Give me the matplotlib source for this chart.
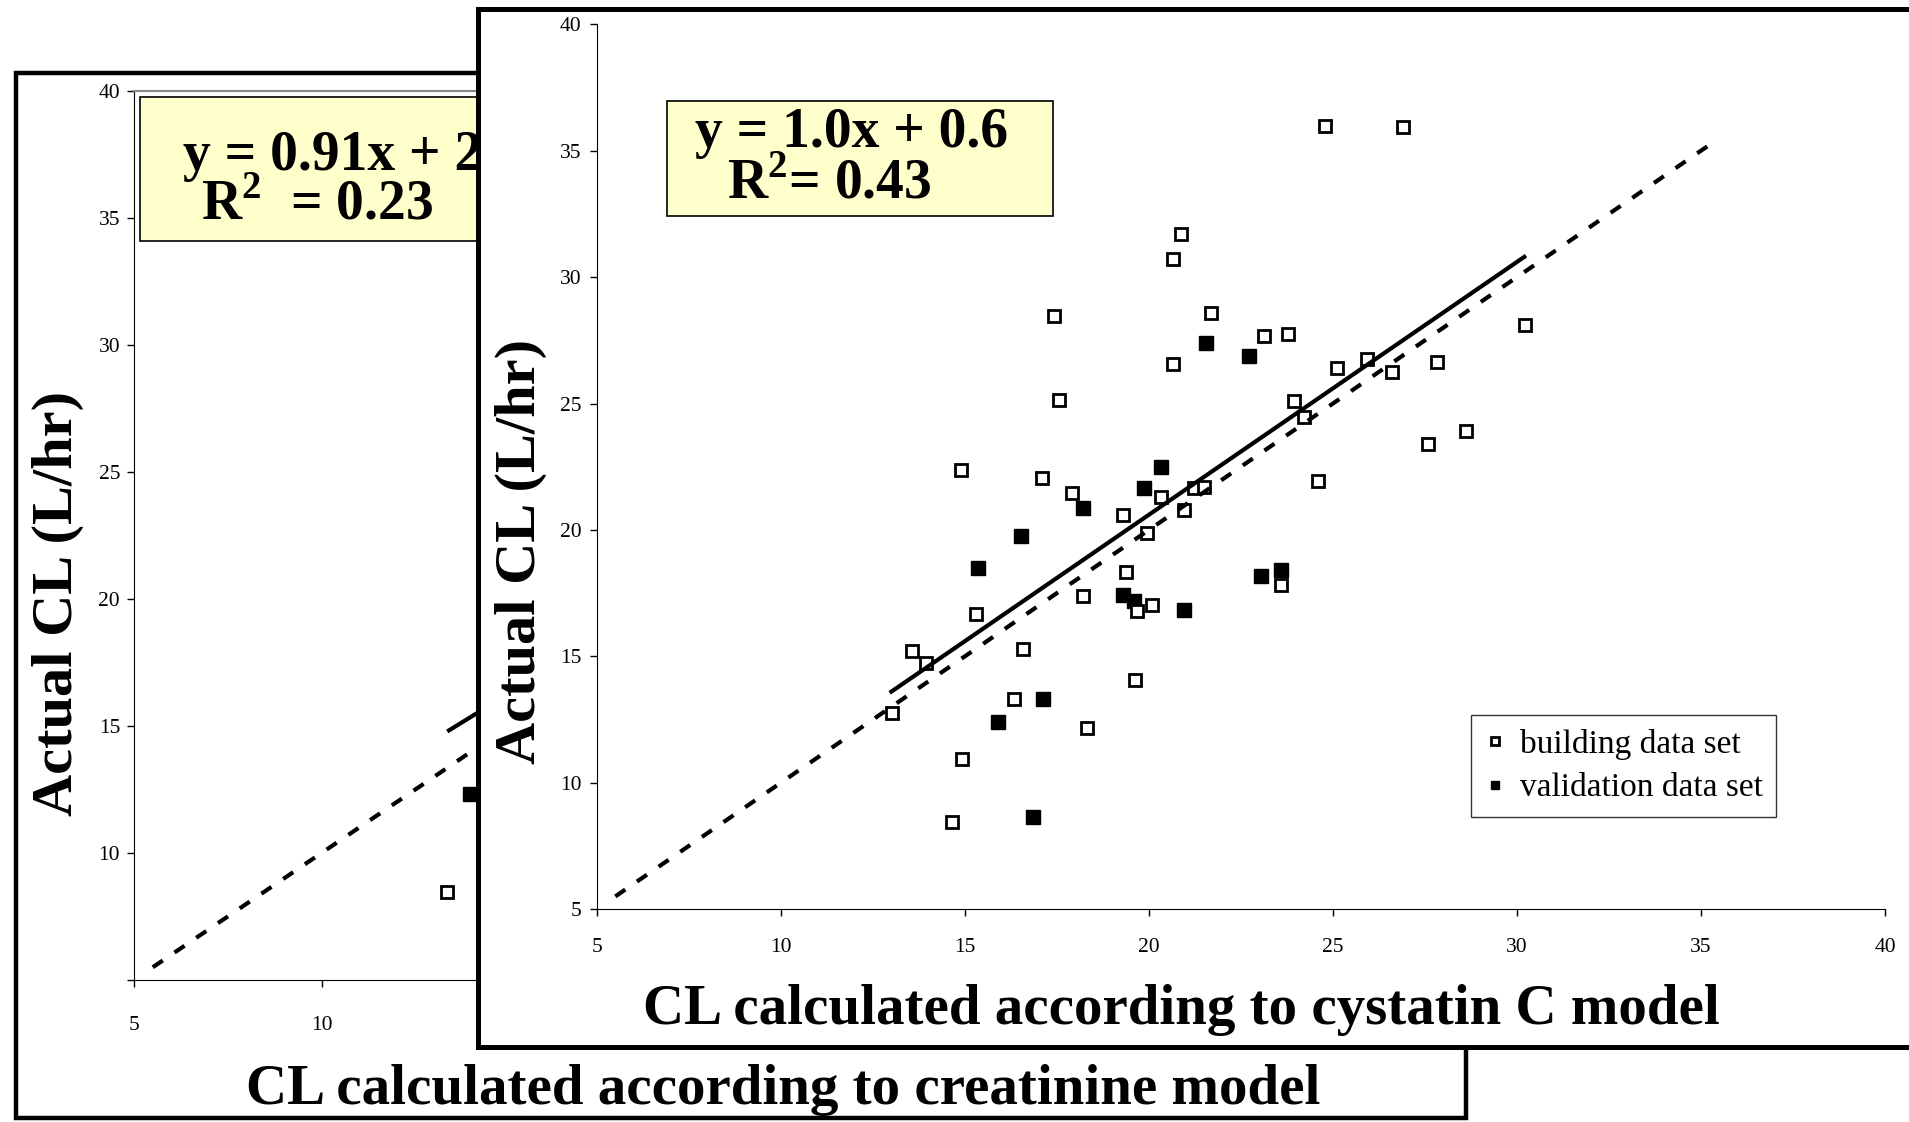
import matplotlib
matplotlib.use("Agg")
import matplotlib.pyplot as plt
from matplotlib.patches import Rectangle

plt.rcParams['font.family'] = ['Liberation Serif', 'DejaVu Serif']
plt.rcParams['mathtext.fontset'] = 'custom'
plt.rcParams['mathtext.rm'] = 'Liberation Serif'
plt.rcParams['mathtext.bf'] = 'Liberation Serif:bold'

# cystatin C model (front panel) - building data set
build_x = [13.02, 13.55, 13.93, 14.66, 14.92, 14.90, 15.30, 16.33, 16.58, 17.09, 17.42,
           17.56, 17.92, 18.21, 18.31, 19.30, 19.38, 19.63, 19.68, 19.95, 20.09, 20.33,
           20.66, 20.66, 20.87, 20.96, 21.23, 21.50, 21.68, 23.13, 23.79, 23.59, 23.95,
           24.22, 24.59, 24.79, 25.10, 25.92, 26.61, 26.90, 27.59, 27.83, 28.61, 30.22]
build_y = [12.77, 15.20, 14.75, 8.43, 10.93, 22.38, 16.69, 13.30, 15.29, 22.05, 28.45,
           25.13, 21.46, 17.40, 12.16, 20.58, 18.35, 14.05, 16.79, 19.89, 17.02, 21.30,
           30.72, 26.58, 31.72, 20.77, 21.67, 21.69, 28.59, 27.67, 27.73, 17.82, 25.11,
           24.45, 21.93, 35.98, 26.39, 26.75, 26.23, 35.92, 23.41, 26.63, 23.91, 28.09]

# cystatin C model - validation data set
valid_x = [15.36, 15.90, 16.52, 16.86, 17.13, 18.21, 19.30, 19.59, 19.86, 20.33, 20.96,
           21.55, 22.73, 23.04, 23.59]
valid_y = [18.51, 12.38, 19.77, 8.66, 13.29, 20.86, 17.41, 17.19, 21.66, 22.49, 16.85,
           27.41, 26.86, 18.17, 18.43]

# regression and identity lines
cys_fit_x = [13.0, 30.2]
cys_fit_y = [13.6, 30.8]
ident_x = [5.5, 35.4]
ident_y = [5.5, 35.4]

# creatinine model (back panel), only the part not hidden by the front panel
crea_build_x = [13.34]
crea_build_y = [8.45]
crea_valid_x = [13.96]
crea_valid_y = [12.33]
crea_fit_x = [13.4, 30.0]
crea_fit_y = [14.83, 29.93]

ticks = [5, 10, 15, 20, 25, 30, 35, 40]
back_xlabels = ['5', '10', '', '', '', '', '', '']   # the rest sit behind the front panel
back_ylabels = ['', '10', '15', '20', '25', '30', '35', '40']

fig = plt.figure(figsize=(19.09, 11.22), dpi=100)

# back panel frame
fig.patches.append(Rectangle((0.0083, 0.0036), 0.7597, 0.9314, transform=fig.transFigure,
                             facecolor='white', edgecolor='black', linewidth=3.2, zorder=-1))

ax1 = fig.add_axes([0.0702, 0.1266, 0.6875, 0.792])
ax1.set_zorder(0)
ax1.set_xlim(5, 40)
ax1.set_ylim(5, 40)
ax1.set_xticks(ticks)
ax1.set_xticklabels(back_xlabels)
ax1.set_yticks(ticks)
ax1.set_yticklabels(back_ylabels)
ax1.tick_params(direction='out', length=5, width=1, labelsize=15.5)
ax1.tick_params(axis='x', pad=21)
ax1.tick_params(axis='y', pad=5)
ax1.spines['top'].set_color('#888888')
ax1.spines['top'].set_linewidth(1.5)
ax1.spines['right'].set_color('#888888')

ax1.plot(crea_valid_x, crea_valid_y, 's', color='black', ms=10.5, zorder=3)
ax1.plot(crea_build_x, crea_build_y, 's', mfc='white', mec='black', ms=9.2, mew=2.0, zorder=4)
ax1.plot(crea_fit_x, crea_fit_y, '-', color='black', lw=3.0, zorder=5)
ax1.plot(ident_x, ident_y, color='black', lw=3.0, dashes=(2.9, 3.4), zorder=5)

ax1.add_patch(Rectangle((5.16, 34.1), 20, 5.66, facecolor='#FFFFCC', edgecolor='black',
                        linewidth=1.2, zorder=6))
ax1.text(6.31, 37.45, 'y = 0.91x + 2.6', fontsize=40, fontweight='bold', va='center', zorder=7)
ax1.text(6.79, 35.5, r'R$^{\mathbf{2}}$  = 0.23', fontsize=40, fontweight='bold', va='center', zorder=7)
ax1.text(-0.0579, 0.424, 'Actual CL (L/hr)', transform=ax1.transAxes, rotation=90,
         fontsize=42, fontweight='bold', ha='center', va='center')
ax1.text(0.495, -0.1238, 'CL calculated according to creatinine model', transform=ax1.transAxes,
         fontsize=41, fontweight='bold', ha='center', va='center')

# front panel frame
fig.patches.append(Rectangle((0.2504, 0.0668), 0.77, 0.9256, transform=fig.transFigure,
                             facecolor='white', edgecolor='black', linewidth=3.6, zorder=1))

ax2 = fig.add_axes([0.3127, 0.1898, 0.6747, 0.7885])
ax2.set_zorder(2)
ax2.patch.set_alpha(0)
ax2.set_xlim(5, 40)
ax2.set_ylim(5, 40)
ax2.set_xticks(ticks)
ax2.set_yticks(ticks)
ax2.tick_params(direction='out', length=5, width=1, labelsize=15.5)
ax2.tick_params(axis='x', pad=16)
ax2.tick_params(axis='y', pad=6)
ax2.spines['top'].set_visible(False)
ax2.spines['right'].set_visible(False)

ax2.plot(valid_x, valid_y, 's', color='black', ms=10.5, zorder=3, label='validation data set')
ax2.plot(build_x, build_y, 's', mfc='white', mec='black', ms=9.2, mew=2.0, zorder=4,
         label='building data set')
ax2.plot(cys_fit_x, cys_fit_y, '-', color='black', lw=3.0, zorder=5)
ax2.plot(ident_x, ident_y, color='black', lw=3.0, dashes=(2.9, 3.4), zorder=5)

ax2.add_patch(Rectangle((6.90, 32.42), 10.49, 4.53, facecolor='#FFFFCC', edgecolor='black',
                        linewidth=1.2, zorder=6))
ax2.text(7.66, 35.7, 'y = 1.0x + 0.6', fontsize=40, fontweight='bold', va='center', zorder=7)
ax2.text(8.53, 33.65, r'R$^{\mathbf{2}}$= 0.43', fontsize=40, fontweight='bold', va='center', zorder=7)

handles, labels = ax2.get_legend_handles_labels()
leg = ax2.legend(handles[::-1], labels[::-1], loc='upper left', bbox_to_anchor=(0.679, 0.219),
                 fontsize=24, frameon=True, fancybox=False, edgecolor='black', markerscale=0.6,
                 handlelength=0.6, handletextpad=0.45, borderpad=0.4, labelspacing=0.4,
                 borderaxespad=0)
leg.get_frame().set_linewidth(1.0)

ax2.text(-0.059, 0.4045, 'Actual CL (L/hr)', transform=ax2.transAxes, rotation=90,
         fontsize=42, fontweight='bold', ha='center', va='center')
ax2.text(0.4534, -0.114, 'CL calculated according to cystatin C model', transform=ax2.transAxes,
         fontsize=41, fontweight='bold', ha='center', va='center')

fig.savefig('out.png', dpi=100, facecolor='white')
